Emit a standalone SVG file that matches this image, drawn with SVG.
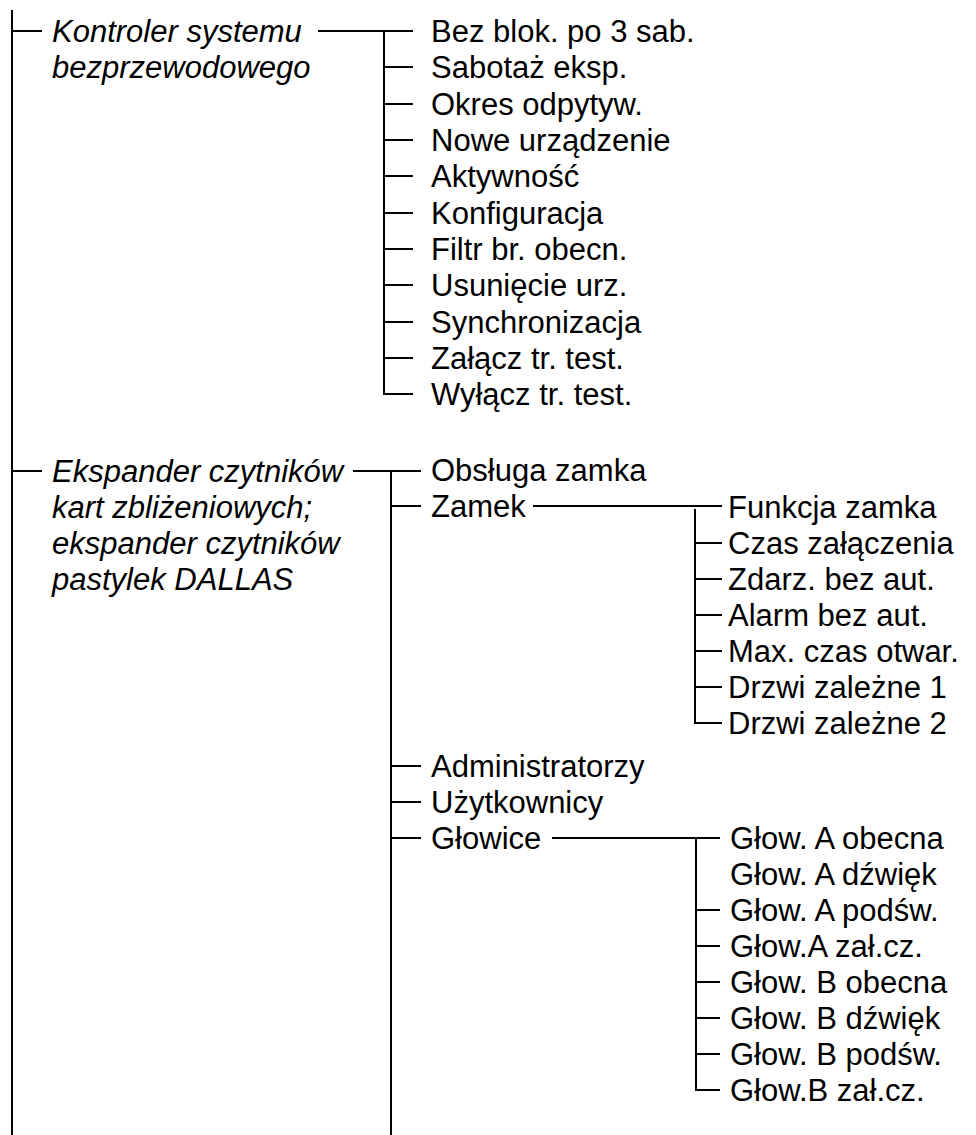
<svg xmlns="http://www.w3.org/2000/svg" width="976" height="1135" viewBox="0 0 976 1135">
  <style>
    .ln { stroke: #000; stroke-width: 2; fill: none; stroke-linecap: butt; }
    text { font-family: "Liberation Sans", Arial, sans-serif; font-size: 31px; fill: #000; }
    .grp { font-style: italic; }
  </style>
  <rect width="976" height="1135" fill="#fff"/>

  <!-- tree connectors -->
  <g id="connectors" class="ln">
    <!-- root spine -->
    <path d="M12 10V1135"/>
    <!-- wireless controller branch -->
    <path d="M12 31H42M318 31H413"/>
    <path d="M384 31V394H413"/>
    <path d="M384 67H413M384 104H413M384 140H413M384 176H413M384 213H413M384 249H413M384 285H413M384 322H413M384 358H413"/>
    <!-- card reader expander branch -->
    <path d="M12 471H42M353 471H421"/>
    <path d="M391 471V1135"/>
    <path d="M391 506H421M391 766H421M391 802H421"/>
    <!-- lock submenu -->
    <path d="M533 506H722"/>
    <path d="M695 509V723H722"/>
    <path d="M695 543H722M695 579H722M695 615H722M695 651H722M695 687H722"/>
    <!-- heads submenu -->
    <path d="M391 838H421M552 838H720"/>
    <path d="M696 838V1090H720"/>
    <path d="M696 910H720M696 946H720M696 982H720M696 1018H720M696 1054H720"/>
  </g>

  <g id="node-kontroler">
    <text class="grp" x="52" y="42">Kontroler systemu</text>
    <text class="grp" x="52" y="78">bezprzewodowego</text>
  </g>
  <g id="node-kontroler-items">
    <text x="431" y="42">Bez blok. po 3 sab.</text>
    <text x="431" y="78">Sabotaż eksp.</text>
    <text x="431" y="115">Okres odpytyw.</text>
    <text x="431" y="151">Nowe urządzenie</text>
    <text x="431" y="187">Aktywność</text>
    <text x="431" y="224">Konfiguracja</text>
    <text x="431" y="260">Filtr br. obecn.</text>
    <text x="431" y="296">Usunięcie urz.</text>
    <text x="431" y="333">Synchronizacja</text>
    <text x="431" y="369">Załącz tr. test.</text>
    <text x="431" y="405">Wyłącz tr. test.</text>
  </g>

  <g id="node-ekspander">
    <text class="grp" x="52" y="482">Ekspander czytników</text>
    <text class="grp" x="52" y="518">kart zbliżeniowych;</text>
    <text class="grp" x="52" y="554">ekspander czytników</text>
    <text class="grp" x="52" y="590">pastylek DALLAS</text>
  </g>
  <g id="node-ekspander-items">
    <text x="431" y="481">Obsługa zamka</text>
    <text x="431" y="517">Zamek</text>
    <text x="431" y="777">Administratorzy</text>
    <text x="431" y="813">Użytkownicy</text>
    <text x="431" y="849">Głowice</text>
  </g>

  <g id="node-zamek-items">
    <text x="728" y="518">Funkcja zamka</text>
    <text x="728" y="554">Czas załączenia</text>
    <text x="728" y="590">Zdarz. bez aut.</text>
    <text x="728" y="626">Alarm bez aut.</text>
    <text x="728" y="662">Max. czas otwar.</text>
    <text x="728" y="698">Drzwi zależne 1</text>
    <text x="728" y="734">Drzwi zależne 2</text>
  </g>

  <g id="node-glowice-items">
    <text x="730" y="849">Głow. A obecna</text>
    <text x="730" y="885">Głow. A dźwięk</text>
    <text x="730" y="921">Głow. A podśw.</text>
    <text x="730" y="957">Głow.A zał.cz.</text>
    <text x="730" y="993">Głow. B obecna</text>
    <text x="730" y="1029">Głow. B dźwięk</text>
    <text x="730" y="1065">Głow. B podśw.</text>
    <text x="730" y="1101">Głow.B zał.cz.</text>
  </g>
</svg>
